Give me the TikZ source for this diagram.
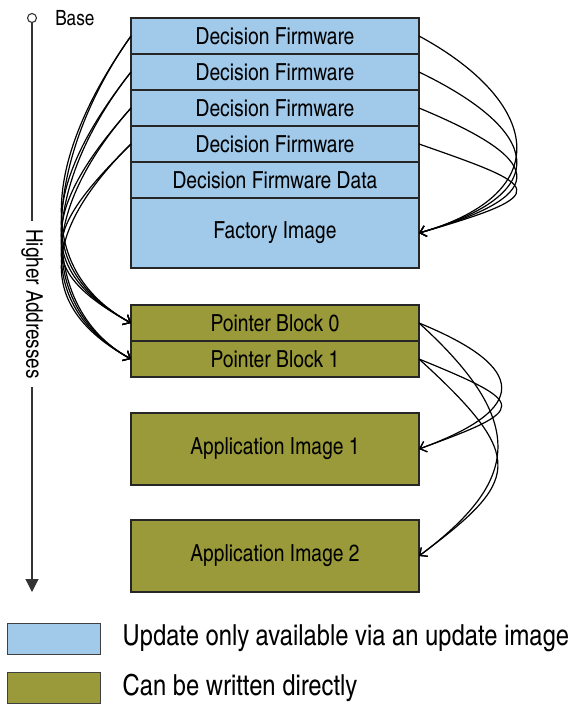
\documentclass[tikz,border=0pt]{standalone}
\usepackage{fontspec}
\setmainfont{TeX Gyre Heros Cn}
\usepackage{xcolor}
\usepackage{tikz}
\usetikzlibrary{positioning, arrows.meta}
\definecolor{fwblue}{HTML}{A0C9EA}
\definecolor{fwolive}{HTML}{9A9A3A}

\begin{document}
\begin{tikzpicture}[x=1pt, y=1pt, >={Straight Barb[length=6pt,width=11pt]},
    blk/.style={draw=black!85, line width=1.1pt, minimum width=288pt, inner sep=0pt,
                outer sep=0pt, font=\fontsize{23.5}{26}\selectfont},
    bluebox/.style={blk, fill=fwblue},
    olivebox/.style={blk, fill=fwolive},
    link/.style={->, line width=1.2pt},
    keybox/.style={draw=black!75, line width=0.9pt, minimum width=93pt, minimum height=31pt},
    keytext/.style={inner sep=0pt, font=\fontsize{29}{32}\selectfont}]
    \useasboundingbox (0,0) rectangle (577,-707);

    % 1. Các khối bộ nhớ
    \node[bluebox, minimum height=36pt] (df1) at (275,-36) {Decision Firmware};
    \node[bluebox, minimum height=36pt, below=0pt of df1] (df2) {Decision Firmware};
    \node[bluebox, minimum height=36pt, below=0pt of df2] (df3) {Decision Firmware};
    \node[bluebox, minimum height=36pt, below=0pt of df3] (df4) {Decision Firmware};
    \node[bluebox, minimum height=36pt, below=0pt of df4] (dfdata) {Decision Firmware Data};
    \node[bluebox, minimum height=70pt, below=0pt of dfdata] (factory) {Factory Image};
    \node[olivebox, minimum height=36pt] (pb0) at (275,-323) {Pointer Block 0};
    \node[olivebox, minimum height=36pt, below=0pt of pb0] (pb1) {Pointer Block 1};
    \node[olivebox, minimum height=72pt] (app1) at (275,-449) {Application Image 1};
    \node[olivebox, minimum height=72pt] (app2) at (275,-556) {Application Image 2};

    % 2. Trục địa chỉ
    \node[circle, draw=black!80, line width=1.1pt, minimum size=9pt, inner sep=0pt] (base) at (32,-18) {};
    \node[right=16pt of base, inner sep=2pt, font=\fontsize{21}{23}\selectfont] (basetext) {Base};
    \node[rotate=-90, inner xsep=8pt, inner ysep=0pt, font=\fontsize{23}{25}\selectfont] (higher) at (32,-304) {Higher Addresses};
    \coordinate (bottom) at (32,-592);
    \draw[draw=black!80, line width=1.2pt] (base) -- (higher.west);
    \draw[draw=black!80, line width=1.2pt, -{Triangle[length=13pt,width=13pt]}] (higher.east) -- (bottom);

    % 3. Mũi tên bên trái
    \foreach \src/\dy in {df1/120, df2/108, df3/96, df4/84} {
        \foreach \dst in {pb0, pb1} {
            \draw[link] (\src.west) .. controls +(-85,-\dy) and +(-100,55) .. (\dst.west);
        }
    }

    % 4. Mũi tên bên phải
    \foreach \src/\dy in {df1/65, df2/58, df3/50, df4/42} {
        \draw[link] (\src.east) .. controls +(120,-\dy) and +(140,40) .. (factory.east);
    }
    \foreach \src in {pb0, pb1} {
        \draw[link] (\src.east) .. controls +(110,-45) and +(110,40) .. (app1.east);
        \draw[link] (\src.east) .. controls +(110,-100) and +(100,75) .. (app2.east);
    }

    % 5. Chú thích
    \node[keybox, fill=fwblue] (keyblue) at (53.5,-638.5) {};
    \node[keytext, right=22pt of keyblue] (keybluetext) {Update only available via an update image};
    \node[keybox, fill=fwolive] (keyolive) at (53.5,-688) {};
    \node[keytext, right=22pt of keyolive] (keyolivetext) {Can be written directly};
\end{tikzpicture}
\end{document}
